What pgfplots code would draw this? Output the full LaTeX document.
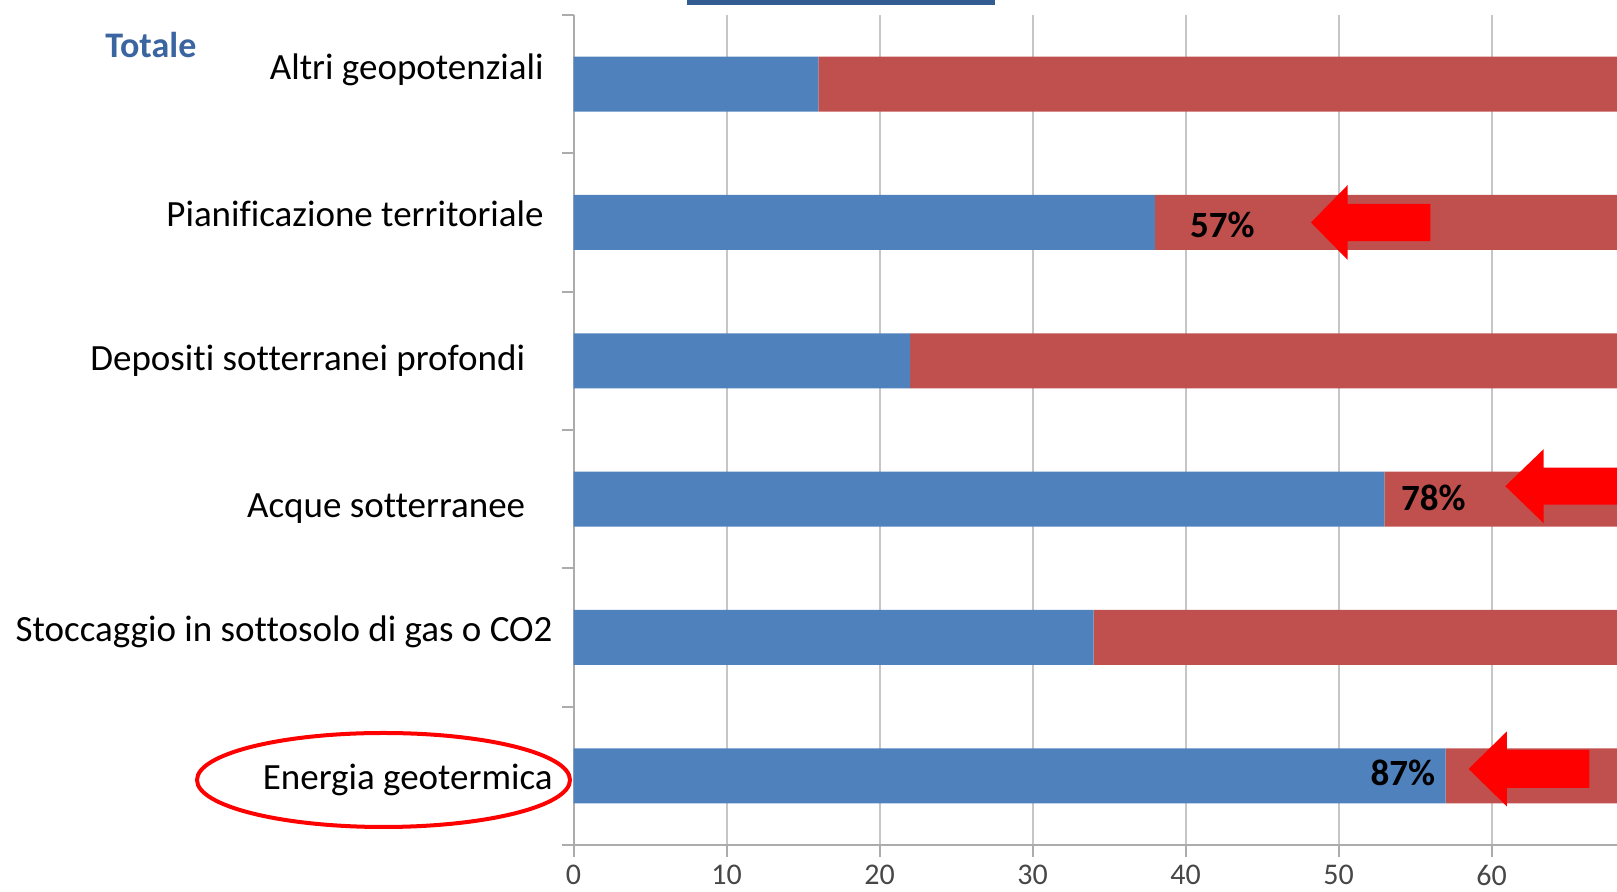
\documentclass[border=0pt]{standalone}
\usepackage{fontspec}
\setmainfont{Carlito}[Ligatures=CommonOff]
\usepackage{pgfplots}
\pgfplotsset{compat=1.18}
\definecolor{xlblue}{HTML}{4F81BD}
\definecolor{xlred}{HTML}{C0504D}
\definecolor{ttlblue}{HTML}{3A65A0}
\definecolor{topbar}{HTML}{335C92}
\definecolor{arrred}{HTML}{FF0000}
\begin{document}
\begin{tikzpicture}
\path[use as bounding box] (0,0) rectangle (808.5pt,446pt);
\begin{axis}[
  at={(286.75pt,23.5pt)}, anchor=south west,
  scale only axis, width=521.75pt, height=415pt,
  xmin=0, xmax=68.2, ymin=0.5, ymax=6.5,
  xbar stacked, bar width=27.5pt,
  axis x line*=bottom, axis y line*=left,
  x axis line style={-}, y axis line style={-},
  axis line style={draw=gray!65, line width=1pt},
  xtick={0,10,...,60},
  ytick={0.5,1.5,...,6.5}, yticklabels={},
  tick align=outside, major tick length=6pt,
  tick style={draw=gray!65, line width=1pt},
  xmajorgrids, major grid style={draw=gray!45, line width=1pt},
  /pgf/number format/assume math mode=true,
  xticklabel style={font=\fontsize{15}{16}\selectfont, text=black!72, yshift=-0.5pt},
  after end axis/.append code={
    \fill[arrred] (axis cs:48.2,5) -- (axis cs:50.6,5.271) -- (axis cs:50.6,5.134) -- (axis cs:56.0,5.134) -- (axis cs:56.0,4.866) -- (axis cs:50.6,4.866) -- (axis cs:50.6,4.729) -- cycle;
    \fill[arrred] (axis cs:60.9,3.094) -- (axis cs:63.4,3.361) -- (axis cs:63.4,3.228) -- (axis cs:68.2,3.228) -- (axis cs:68.2,2.960) -- (axis cs:63.4,2.960) -- (axis cs:63.4,2.827) -- cycle;
    \fill[arrred] (axis cs:58.5,1.05) -- (axis cs:61.0,1.321) -- (axis cs:61.0,1.187) -- (axis cs:66.4,1.187) -- (axis cs:66.4,0.913) -- (axis cs:61.0,0.913) -- (axis cs:61.0,0.779) -- cycle;
    \node[font=\fontsize{18.5}{20}\selectfont\bfseries] at (axis cs:42.4,4.98) {57\%};
    \node[font=\fontsize{18.5}{20}\selectfont\bfseries] at (axis cs:56.2,3.01) {78\%};
    \node[font=\fontsize{18.5}{20}\selectfont\bfseries] at (axis cs:54.2,1.02) {87\%};
  },
]
\addplot[fill=xlblue, draw=none] coordinates {(57,1) (34,2) (53,3) (22,4) (38,5) (16,6)};
\addplot[fill=xlred, draw=none] coordinates {(13,1) (36,2) (17,3) (48,4) (32,5) (54,6)};
\end{axis}
% category labels
\begin{scope}[every node/.style={anchor=base east, inner sep=0pt, font=\fontsize{18.5}{20}\selectfont}]
\node at (272pt,406pt) {Altri geopotenziali};
\node at (272pt,332.5pt) {Pianificazione territoriale};
\node at (262.75pt,260.5pt) {Depositi sotterranei profondi};
\node at (262.75pt,187pt) {Acque sotterranee};
\node at (276.5pt,125pt) {Stoccaggio in sottosolo di gas o CO2};
\node at (276.5pt,51pt) {Energia geotermica};
\end{scope}
\node[anchor=base west, inner sep=0pt, font=\fontsize{18}{20}\selectfont\bfseries, text=ttlblue] at (52.5pt,417pt) {Totale};
\draw[arrred, line width=2pt] (191.75pt,56pt) ellipse [x radius=93.25pt, y radius=23.5pt];
\fill[topbar] (343.5pt,446pt) rectangle (497.5pt,443.5pt);
\end{tikzpicture}
\end{document}
